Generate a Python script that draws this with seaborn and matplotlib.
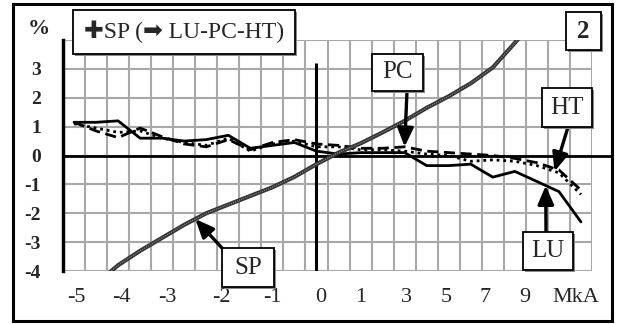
import numpy as np
import matplotlib
matplotlib.use('Agg')
import matplotlib.pyplot as plt
from matplotlib.patches import Rectangle
import seaborn as sns

sns.set_style('white')
plt.rcParams['font.family'] = ['Liberation Serif', 'DejaVu Sans']

W, H = 619, 324

# 24 categories, values sit at the category centres
cat = np.arange(24) + 0.5
tick_labels = ['-5', '-4', '-3', '-2', '-1', '0', '1', '3', '5', '7', '9', 'MkA']
tick_pos = [0.6, 2.65, 4.75, 7.2, 9.5, 11.7, 13.5, 15.6, 17.4, 19.15, 20.95, 23.25]

sp = [-5.1, -4.45, -3.8, -3.3, -2.85, -2.4, -2.0, -1.7, -1.4, -1.1, -0.74, -0.3,
      0.1, 0.42, 0.8, 1.2, 1.65, 2.05, 2.5, 3.05, 3.9, 4.8, 5.8, 7.0]
lu = [1.15, 1.15, 1.2, 0.6, 0.6, 0.5, 0.55, 0.7, 0.25, 0.35, 0.45, 0.15,
      0.05, 0.1, 0.1, 0.1, -0.35, -0.35, -0.3, -0.75, -0.55, -0.9, -1.25, -2.3]
pc = [1.15, 0.85, 0.62, 0.95, 0.65, 0.4, 0.3, 0.55, 0.2, 0.45, 0.55, 0.4,
      0.35, 0.25, 0.25, 0.3, 0.15, 0.1, 0.05, 0.0, -0.1, -0.25, -0.5, -1.2]
ht = [1.1, 0.95, 0.8, 0.85, 0.6, 0.45, 0.35, 0.6, 0.15, 0.4, 0.5, 0.3,
      0.3, 0.2, 0.2, 0.15, 0.05, 0.0, -0.2, -0.15, -0.2, -0.35, -0.6, -1.35]
y_ticks = [-4, -3, -2, -1, 0, 1, 2, 3, 4]


def fx(x, y):
    return x / W, 1 - y / H


fig = plt.figure(figsize=(W / 100, H / 100), dpi=100)
ax = fig.add_axes([63 / W, 1 - 271 / H, (592 - 63) / W, (271 - 40) / H])

grey = '#a8a8a8'
ax.set_xlim(0, 24)
ax.set_ylim(-4, 4)
ax.set_xticks(np.arange(25), minor=True)
ax.set_xticks(tick_pos)
ax.set_xticklabels(tick_labels, fontsize=16)
ax.set_yticks(y_ticks)
ax.set_yticklabels([str(v) for v in y_ticks[:-1]] + [''], fontsize=14, fontweight='bold')
ax.tick_params(axis='x', which='both', length=0, pad=12)
ax.tick_params(axis='y', length=6, width=1.5, color=grey, pad=10)
ax.grid(which='minor', axis='x', color=grey, lw=1.5)
ax.grid(which='major', axis='y', color=grey, lw=1.5)
ax.set_axisbelow(True)
for s in ['top', 'right', 'bottom']:
    ax.spines[s].set_visible(False)
ax.spines['left'].set_linewidth(2.5)
ax.spines['left'].set_color('black')

ax.axhline(0, xmin=0, xmax=1.038, color='black', lw=2, clip_on=False, zorder=2)
ax.vlines(11.5, -4, 3.2, color='black', lw=2.2, zorder=2)

sns.lineplot(x=cat, y=ht, color='black', lw=2, linestyle=(0, (1, 1.4)), ax=ax, zorder=3)
sns.lineplot(x=cat, y=pc, color='black', lw=2, linestyle=(0, (4, 2)), ax=ax, zorder=3)
sns.lineplot(x=cat, y=lu, color='black', lw=2, ax=ax, zorder=3)
sns.lineplot(x=cat, y=sp, color='#333333', lw=3.0, ax=ax, zorder=4)
sns.lineplot(x=cat, y=sp, color='#8e8e8e', lw=0.8, linestyle=(0, (1, 1)), ax=ax, zorder=5)


def boxed(x0, y0, x1, y1, txt, size, weight='normal'):
    a = fx(x0, y1)
    fig.patches.append(Rectangle((a[0] + 2 / W, a[1] - 2 / H), (x1 - x0) / W, (y1 - y0) / H,
                                 transform=fig.transFigure, facecolor='#8a8a8a',
                                 edgecolor='none', zorder=6))
    fig.patches.append(Rectangle(a, (x1 - x0) / W, (y1 - y0) / H, transform=fig.transFigure,
                                 facecolor='white', edgecolor='black', lw=1.3, zorder=7))
    c = fx((x0 + x1) / 2, (y0 + y1) / 2)
    fig.text(c[0], c[1], txt, ha='center', va='center', fontsize=size,
             fontweight=weight, zorder=8)


def arrow(start, tip):
    ax.annotate('', xy=tip, xytext=fx(*start), textcoords='figure fraction',
                arrowprops=dict(arrowstyle='-|>,head_length=0.7,head_width=0.3',
                                mutation_scale=16, color='black', lw=2.4,
                                shrinkA=0, shrinkB=0), zorder=9)


boxed(73, 10, 295, 54, '✚SP (➡ LU-PC-HT)', 17)
boxed(566, 12, 601, 50, '2', 18, 'bold')
boxed(372, 54, 423, 91, 'PC', 18)
boxed(542, 88, 592, 127, 'HT', 18)
boxed(523, 232, 573, 270, 'LU', 18)
boxed(222, 248, 274, 287, 'SP', 18)

arrow((407, 91), (15.5, np.interp(15.5, cat, pc)))
arrow((568, 127), (22.3, np.interp(22.3, cat, ht)))
arrow((546, 232), (21.9, np.interp(21.9, cat, lu)))
arrow((222, 248), (6.0, np.interp(6.0, cat, sp)))

p = fx(39, 29)
fig.text(p[0], p[1], '%', ha='center', va='center', fontsize=16, fontweight='bold')

b = fx(13, 321)
fig.patches.append(Rectangle(b, (612 - 13) / W, (321 - 4) / H, transform=fig.transFigure,
                             facecolor='none', edgecolor='black', lw=2.2, zorder=10))

fig.savefig('out.png', dpi=100)
